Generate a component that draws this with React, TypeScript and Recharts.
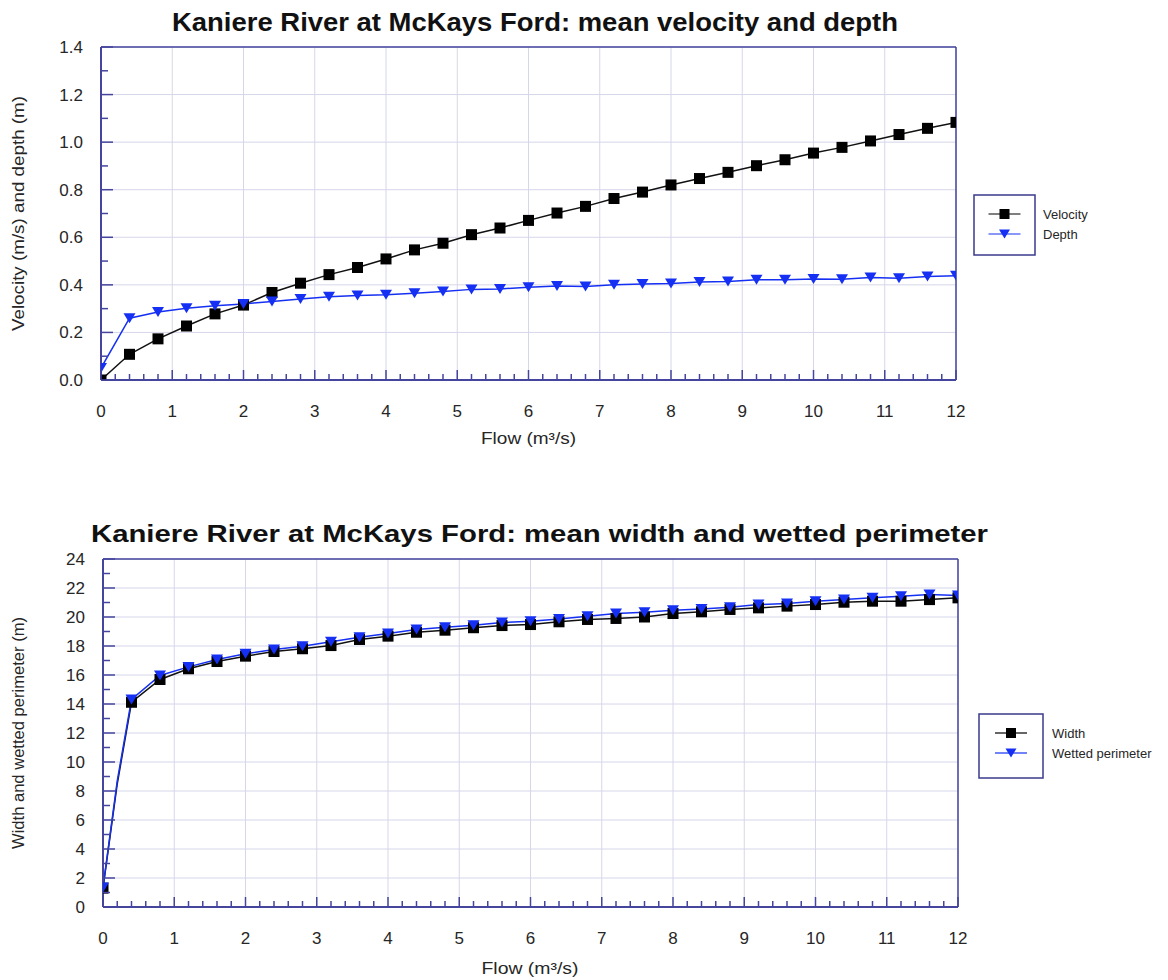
import {
    CartesianGrid,
    Line,
    LineChart,
    ReferenceLine,
    XAxis,
    YAxis,
} from "recharts";

const FONT = '"Liberation Sans", Arial, Helvetica, sans-serif';
const AXIS = "#45459e";
const GRID = "#d6d6ea";
const BLUE = "#1530f2";
const TEXT = "#262626";

// velocity / depth chart
const velocityFlow = [
    0, 0.4, 0.8, 1.2, 1.6, 2.0, 2.4, 2.8, 3.2, 3.6, 4.0, 4.4, 4.8, 5.2, 5.6, 6.0,
    6.4, 6.8, 7.2, 7.6, 8.0, 8.4, 8.8, 9.2, 9.6, 10.0, 10.4, 10.8, 11.2, 11.6, 12.0,
];
const velocity = [
    0.0, 0.108, 0.173, 0.227, 0.278, 0.315, 0.368, 0.407, 0.443, 0.473, 0.509,
    0.547, 0.575, 0.611, 0.639, 0.671, 0.702, 0.73, 0.763, 0.79, 0.82, 0.847,
    0.873, 0.901, 0.926, 0.954, 0.978, 1.005, 1.032, 1.058, 1.083,
];
const depth = [
    0.05, 0.26, 0.286, 0.302, 0.312, 0.32, 0.33, 0.341, 0.35, 0.355, 0.358,
    0.365, 0.372, 0.381, 0.383, 0.39, 0.395, 0.393, 0.4, 0.404, 0.406, 0.412,
    0.414, 0.421, 0.421, 0.425, 0.424, 0.431, 0.428, 0.435, 0.438,
];

// width / wetted perimeter chart (0.2 has no marker in the original)
const widthFlow = [
    0, 0.2, 0.4, 0.8, 1.2, 1.6, 2.0, 2.4, 2.8, 3.2, 3.6, 4.0, 4.4, 4.8, 5.2, 5.6,
    6.0, 6.4, 6.8, 7.2, 7.6, 8.0, 8.4, 8.8, 9.2, 9.6, 10.0, 10.4, 10.8, 11.2,
    11.6, 12.0,
];
const unmarkedFlows = [0.2];
const width = [
    1.3, 8.5, 14.12, 15.69, 16.43, 16.93, 17.3, 17.62, 17.81, 18.03, 18.45,
    18.68, 18.95, 19.09, 19.26, 19.41, 19.48, 19.67, 19.83, 19.9, 20.0, 20.24,
    20.36, 20.52, 20.63, 20.75, 20.86, 21.02, 21.09, 21.09, 21.2, 21.32,
];
const wettedPerimeter = [
    1.35, 8.7, 14.31, 15.97, 16.56, 17.07, 17.46, 17.76, 17.99, 18.29, 18.61,
    18.86, 19.14, 19.3, 19.43, 19.62, 19.7, 19.87, 20.06, 20.24, 20.33, 20.47,
    20.56, 20.68, 20.86, 20.93, 21.09, 21.2, 21.32, 21.43, 21.55, 21.48,
];

// axes
const flowTicks = Array.from({ length: 61 }, (_, i) => +(i * 0.2).toFixed(1));
const flowGridTicks = [1, 2, 3, 4, 5, 6, 7, 8, 9, 10, 11];
const velocityTicks = Array.from({ length: 15 }, (_, i) => +(i * 0.1).toFixed(1));
const velocityGridTicks = [0.2, 0.4, 0.6, 0.8, 1.0, 1.2];
const widthTicks = Array.from({ length: 25 }, (_, i) => i);
const widthGridTicks = [2, 4, 6, 8, 10, 12, 14, 16, 18, 20, 22];

const topData = velocityFlow.map((flow, i) => ({
    flow,
    velocity: velocity[i],
    depth: depth[i],
}));

const bottomData = widthFlow.map((flow, i) => ({
    flow,
    width: width[i],
    wetted: wettedPerimeter[i],
}));

function FlowTick(props: any) {
    const { x, y, payload } = props;
    const v = payload.value;
    const major = Math.abs(v - Math.round(v)) < 1e-6;
    return (
        <g>
            <line
                x1={x}
                x2={x}
                y1={y}
                y2={y - (major ? 10 : 6)}
                stroke={AXIS}
                strokeWidth={1.5}
            />
            {major && (
                <text
                    x={x}
                    y={y + 37}
                    textAnchor="middle"
                    fontSize={17}
                    fontFamily={FONT}
                    fill={TEXT}
                >
                    {Math.round(v)}
                </text>
            )}
        </g>
    );
}

function makeValueTick(step: number, digits: number) {
    return function ValueTick(props: any) {
        const { x, y, payload } = props;
        const v = payload.value;
        const major = Math.round(v / step) % 2 === 0;
        return (
            <g>
                <line
                    x1={x}
                    x2={x + (major ? 12 : 7)}
                    y1={y}
                    y2={y}
                    stroke={AXIS}
                    strokeWidth={1.5}
                />
                {major && (
                    <text
                        x={x - 18}
                        y={y + 6}
                        textAnchor="end"
                        fontSize={17}
                        fontFamily={FONT}
                        fill={TEXT}
                    >
                        {v.toFixed(digits)}
                    </text>
                )}
            </g>
        );
    };
}

const VelocityTick = makeValueTick(0.1, 1);
const WidthTick = makeValueTick(1, 0);

function SquareDot(props: any) {
    const { cx, cy, index, payload } = props;
    if (cx == null || cy == null || unmarkedFlows.includes(payload.flow)) {
        return <g key={index} />;
    }
    return (
        <rect
            key={index}
            x={cx - 5.5}
            y={cy - 5.5}
            width={11}
            height={11}
            fill="#000"
        />
    );
}

function TriangleDot(props: any) {
    const { cx, cy, index, payload } = props;
    if (cx == null || cy == null || unmarkedFlows.includes(payload.flow)) {
        return <g key={index} />;
    }
    return (
        <path
            key={index}
            d={`M${cx - 6},${cy - 5} L${cx + 6},${cy - 5} L${cx},${cy + 5} Z`}
            fill={BLUE}
        />
    );
}

function LegendBox({
    left,
    top,
    w,
    h,
    items,
    textX,
}: {
    left: number;
    top: number;
    w: number;
    h: number;
    items: Array<{ label: string; color: string; shape: "square" | "triangle" }>;
    textX: number;
}) {
    return (
        <g transform={`translate(${left},${top})`}>
            <rect
                x={0}
                y={0}
                width={w}
                height={h}
                fill="#fff"
                stroke="#3a3a8c"
                strokeWidth={1.5}
            />
            {items.map((item, i) => {
                const cy = 19 + i * 20;
                const cx = w / 2;
                return (
                    <g key={item.label}>
                        <line
                            x1={cx - 16}
                            x2={cx + 16}
                            y1={cy}
                            y2={cy}
                            stroke={item.color}
                            strokeWidth={1.2}
                        />
                        {item.shape === "square" ? (
                            <rect
                                x={cx - 5}
                                y={cy - 5}
                                width={10}
                                height={10}
                                fill={item.color}
                            />
                        ) : (
                            <path
                                d={`M${cx - 5.5},${cy - 4.5} L${cx + 5.5},${cy - 4.5} L${cx},${cy + 4.5} Z`}
                                fill={item.color}
                            />
                        )}
                        <text
                            x={textX}
                            y={cy + 4.5}
                            fontSize={13}
                            fontFamily={FONT}
                            fill={TEXT}
                        >
                            {item.label}
                        </text>
                    </g>
                );
            })}
        </g>
    );
}

export default function App() {
    return (
        <div
            style={{
                position: "absolute",
                left: 0,
                top: 0,
                width: 1168,
                height: 980,
                background: "#fff",
                fontFamily: FONT,
            }}
        >
            <div style={{ position: "absolute", left: 0, top: 0 }}>
                <LineChart
                    width={1168}
                    height={470}
                    data={topData}
                    margin={{ top: 47, right: 212, bottom: 60, left: 41 }}
                >
                    <XAxis
                        xAxisId="grid"
                        dataKey="flow"
                        type="number"
                        domain={[0, 12]}
                        ticks={flowGridTicks}
                        allowDataOverflow
                        hide
                    />
                    <YAxis
                        yAxisId="grid"
                        dataKey="velocity"
                        type="number"
                        domain={[0, 1.4]}
                        ticks={velocityGridTicks}
                        allowDataOverflow
                        hide
                    />
                    <CartesianGrid
                        xAxisId="grid"
                        yAxisId="grid"
                        stroke={GRID}
                    />
                    <XAxis
                        dataKey="flow"
                        type="number"
                        domain={[0, 12]}
                        ticks={flowTicks}
                        interval={0}
                        height={30}
                        tickSize={0}
                        tickMargin={0}
                        tickLine={false}
                        axisLine={{ stroke: AXIS, strokeWidth: 2 }}
                        tick={FlowTick}
                        allowDataOverflow
                    />
                    <YAxis
                        type="number"
                        domain={[0, 1.4]}
                        ticks={velocityTicks}
                        interval={0}
                        width={60}
                        tickSize={0}
                        tickMargin={0}
                        tickLine={false}
                        axisLine={{ stroke: AXIS, strokeWidth: 2 }}
                        tick={VelocityTick}
                        allowDataOverflow
                    />
                    <ReferenceLine x={12} stroke={AXIS} strokeWidth={1.5} />
                    <ReferenceLine y={1.4} stroke={AXIS} strokeWidth={1.5} />
                    <Line
                        type="linear"
                        dataKey="velocity"
                        stroke="#111"
                        strokeWidth={1.5}
                        dot={SquareDot}
                        activeDot={false}
                        isAnimationActive={false}
                    />
                    <Line
                        type="linear"
                        dataKey="depth"
                        stroke={BLUE}
                        strokeWidth={1.5}
                        dot={TriangleDot}
                        activeDot={false}
                        isAnimationActive={false}
                    />
                </LineChart>
            </div>

            <div style={{ position: "absolute", left: 0, top: 490 }}>
                <LineChart
                    width={1168}
                    height={490}
                    data={bottomData}
                    margin={{ top: 69, right: 210, bottom: 42, left: 43 }}
                >
                    <XAxis
                        xAxisId="grid"
                        dataKey="flow"
                        type="number"
                        domain={[0, 12]}
                        ticks={flowGridTicks}
                        allowDataOverflow
                        hide
                    />
                    <YAxis
                        yAxisId="grid"
                        dataKey="width"
                        type="number"
                        domain={[0, 24]}
                        ticks={widthGridTicks}
                        allowDataOverflow
                        hide
                    />
                    <CartesianGrid
                        xAxisId="grid"
                        yAxisId="grid"
                        stroke={GRID}
                    />
                    <XAxis
                        dataKey="flow"
                        type="number"
                        domain={[0, 12]}
                        ticks={flowTicks}
                        interval={0}
                        height={31}
                        tickSize={0}
                        tickMargin={0}
                        tickLine={false}
                        axisLine={{ stroke: AXIS, strokeWidth: 2 }}
                        tick={FlowTick}
                        allowDataOverflow
                    />
                    <YAxis
                        type="number"
                        domain={[0, 24]}
                        ticks={widthTicks}
                        interval={0}
                        width={60}
                        tickSize={0}
                        tickMargin={0}
                        tickLine={false}
                        axisLine={{ stroke: AXIS, strokeWidth: 2 }}
                        tick={WidthTick}
                        allowDataOverflow
                    />
                    <ReferenceLine x={12} stroke={AXIS} strokeWidth={1.5} />
                    <ReferenceLine y={24} stroke={AXIS} strokeWidth={1.5} />
                    <Line
                        type="linear"
                        dataKey="width"
                        stroke="#111"
                        strokeWidth={1.5}
                        dot={SquareDot}
                        activeDot={false}
                        isAnimationActive={false}
                    />
                    <Line
                        type="linear"
                        dataKey="wetted"
                        stroke={BLUE}
                        strokeWidth={1.5}
                        dot={TriangleDot}
                        activeDot={false}
                        isAnimationActive={false}
                    />
                </LineChart>
            </div>

            <svg
                width={1168}
                height={980}
                style={{ position: "absolute", left: 0, top: 0, pointerEvents: "none" }}
            >
                <text
                    x={535}
                    y={31}
                    textAnchor="middle"
                    fontSize={26}
                    fontWeight="bold"
                    fontFamily={FONT}
                    fill="#111"
                    textLength={726}
                    lengthAdjust="spacingAndGlyphs"
                >
                    Kaniere River at McKays Ford: mean velocity and depth
                </text>
                <text
                    x={539.5}
                    y={542}
                    textAnchor="middle"
                    fontSize={24}
                    fontWeight="bold"
                    fontFamily={FONT}
                    fill="#111"
                    textLength={897}
                    lengthAdjust="spacingAndGlyphs"
                >
                    Kaniere River at McKays Ford: mean width and wetted perimeter
                </text>

                <text
                    x={528.5}
                    y={444}
                    textAnchor="middle"
                    fontSize={16}
                    fontFamily={FONT}
                    fill={TEXT}
                    textLength={95}
                    lengthAdjust="spacingAndGlyphs"
                >
                    Flow (m³/s)
                </text>
                <text
                    x={530}
                    y={974}
                    textAnchor="middle"
                    fontSize={16}
                    fontFamily={FONT}
                    fill={TEXT}
                    textLength={97}
                    lengthAdjust="spacingAndGlyphs"
                >
                    Flow (m³/s)
                </text>

                <text
                    transform="translate(18,213.5) rotate(-90)"
                    x={0}
                    y={5.5}
                    textAnchor="middle"
                    fontSize={16}
                    fontFamily={FONT}
                    fill={TEXT}
                    textLength={235}
                    lengthAdjust="spacingAndGlyphs"
                >
                    Velocity (m/s) and depth (m)
                </text>
                <text
                    transform="translate(18,733) rotate(-90)"
                    x={0}
                    y={5.5}
                    textAnchor="middle"
                    fontSize={16}
                    fontFamily={FONT}
                    fill={TEXT}
                    textLength={232}
                    lengthAdjust="spacingAndGlyphs"
                >
                    Width and wetted perimeter (m)
                </text>

                <LegendBox
                    left={974}
                    top={195}
                    w={61}
                    h={60}
                    textX={69}
                    items={[
                        { label: "Velocity", color: "#000", shape: "square" },
                        { label: "Depth", color: BLUE, shape: "triangle" },
                    ]}
                />
                <LegendBox
                    left={979}
                    top={714}
                    w={64}
                    h={64}
                    textX={73}
                    items={[
                        { label: "Width", color: "#000", shape: "square" },
                        { label: "Wetted perimeter", color: BLUE, shape: "triangle" },
                    ]}
                />
            </svg>
        </div>
    );
}
